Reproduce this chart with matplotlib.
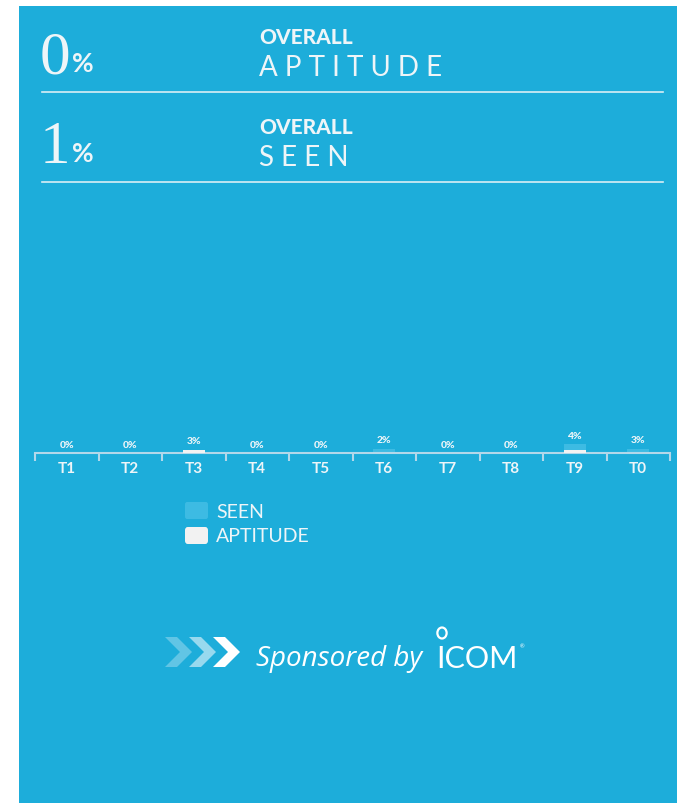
import numpy as np
import matplotlib
matplotlib.use("Agg")
import matplotlib.pyplot as plt
from matplotlib.patches import Rectangle, Polygon, Circle, FancyBboxPatch

# data
categories = ["T1", "T2", "T3", "T4", "T5", "T6", "T7", "T8", "T9", "T0"]
seen = [0, 0, 0, 0, 0, 2, 0, 0, 4, 2]
aptitude = [0, 0, 1.5, 0, 0, 0, 0, 0, 1.5, 0]
value_labels = ["0%", "0%", "3%", "0%", "0%", "2%", "0%", "0%", "4%", "3%"]
overall_aptitude = "0"
overall_seen = "1"

BG = "#1DADDA"
SEEN_C = "#3DBBE3"
APT_C = "#F2F2F2"
TXT = "#EEF5F8"
AXC = "#B3D8EA"

W, H = 677, 804
def fx(x):
    return x / W
def fy(y):
    return 1 - y / H

fig = plt.figure(figsize=(6.77, 8.04), dpi=100, facecolor="white")
fig.patches.append(Rectangle((fx(19), 0), 1 - fx(19), fy(7), transform=fig.transFigure,
                             facecolor=BG, edgecolor="none", zorder=-5))

### header
sans = ["Lato", "DejaVu Sans"]
for y0, num, word in [(73, overall_aptitude, "APTITUDE"), (163, overall_seen, "SEEN")]:
    fig.text(fx(40), fy(y0), num, family="Liberation Serif", fontsize=44, color=TXT, va="baseline")
    fig.text(fx(72), fy(y0 - 1), "%", family=sans, fontweight="bold", fontsize=19, color=TXT, va="baseline")
    fig.text(fx(259), fy(y0 - 29), "OVERALL", family=sans, fontweight="black", fontsize=15, color=TXT, va="baseline")
    fig.text(fx(259), fy(y0 + 3), " ".join(word), family=sans, fontsize=20, color=TXT, va="baseline")
for yl in [93, 183]:
    fig.add_artist(plt.Line2D([fx(42), fx(663)], [fy(yl), fy(yl)], color=TXT, lw=1.2, alpha=0.9))

### chart
ax = fig.add_axes([fx(35), fy(454), (670 - 35) / W, (454 - 230) / H])
ax.patch.set_visible(False)
x = np.arange(len(categories))
bw = 22 / 63.5
ax.bar(x, seen, width=bw, color=SEEN_C, zorder=2)
ax.bar(x, aptitude, width=bw, color=APT_C, zorder=3)
for i, lbl in enumerate(value_labels):
    top = max(seen[i], aptitude[i])
    ax.annotate(lbl, (i, top), xytext=(0, 3), textcoords="offset points", ha="center", va="bottom",
                fontsize=7.5, fontweight="black", color=TXT, family=sans)
ax.set_xlim(-0.5, len(categories) - 0.5)
ax.set_ylim(0, 100)
for s in ["top", "left", "right"]:
    ax.spines[s].set_visible(False)
ax.spines["bottom"].set_color(AXC)
ax.spines["bottom"].set_linewidth(1.5)
ax.set_yticks([])
ax.set_xticks(x)
ax.set_xticklabels(categories, family=sans, fontsize=11, color=TXT, fontweight="bold")
ax.set_xticks(np.arange(-0.5, len(categories)), minor=True)
ax.tick_params(axis="x", which="major", length=0, pad=6)
ax.tick_params(axis="x", which="minor", length=6, width=1.5, color=AXC, direction="out")

### legend
fig.patches.append(FancyBboxPatch((fx(185), fy(520)), fx(208) - fx(185), fy(503) - fy(520),
                                  boxstyle="round,pad=0,rounding_size=0.003", transform=fig.transFigure,
                                  facecolor=SEEN_C, edgecolor="none"))
fig.patches.append(FancyBboxPatch((fx(185), fy(545)), fx(208) - fx(185), fy(528) - fy(545),
                                  boxstyle="round,pad=0,rounding_size=0.004", transform=fig.transFigure,
                                  facecolor=APT_C, edgecolor="none"))
fig.text(fx(216), fy(512), "SEEN", family=sans, fontsize=14, color=TXT, va="center")
fig.text(fx(216), fy(537), "APTITUDE", family=sans, fontsize=14, color=TXT, va="center")

### sponsor
for x0, a in [(165, 0.3), (189, 0.55), (213, 1.0)]:
    w, t, top, bot = 27, 12, 638, 668
    mid = (top + bot) / 2
    pts = [(x0, top), (x0 + t, top), (x0 + w, mid), (x0 + t, bot), (x0, bot), (x0 + w - t, mid)]
    fig.patches.append(Polygon([(fx(px), fy(py)) for px, py in pts], closed=True,
                               transform=fig.transFigure, facecolor="white", alpha=a, edgecolor="none"))
fig.text(fx(256), fy(666), "Sponsored by", family=["Open Sans", "DejaVu Sans"], style="italic",
         fontsize=20, color="white", va="baseline")
fig.text(fx(436), fy(668), "ICOM", family=sans, fontsize=22, color="white", va="baseline")
fig.patches.append(Circle((fx(442), fy(634)), 5.5 / H, transform=fig.transFigure,
                          facecolor="none", edgecolor="white", lw=1.6))
fig.text(fx(520), fy(648), "®", family=sans, fontsize=4, color="white", va="baseline")

fig.savefig("out.png", dpi=100, facecolor="white")
